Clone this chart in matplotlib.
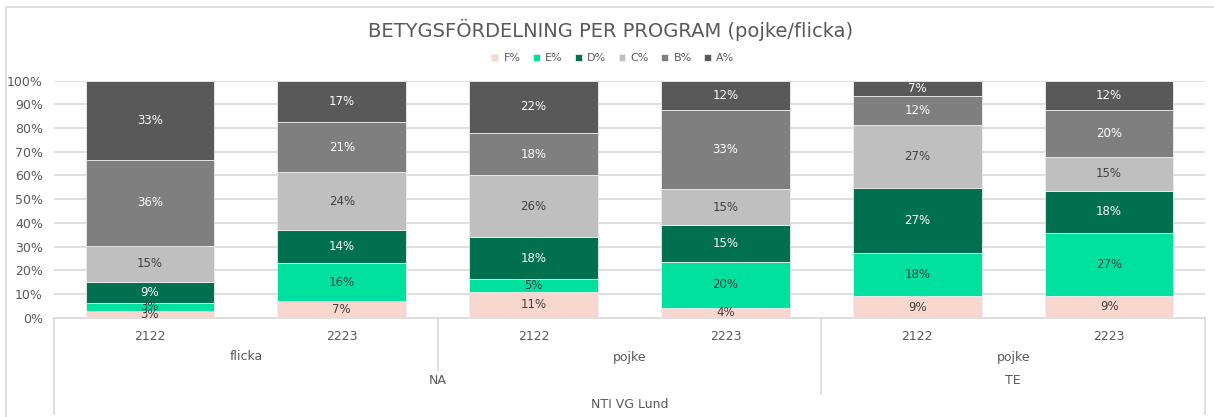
import matplotlib
matplotlib.use("Agg")
import matplotlib.pyplot as plt
from matplotlib.patches import Rectangle
from matplotlib.lines import Line2D
import numpy as np

plt.rcParams['font.family'] = ['DejaVu Sans']

# ---- data ----
schools = ["NTI VG Lund"] * 6
programs = ["NA", "NA", "NA", "NA", "TE", "TE"]
genders = ["flicka", "flicka", "pojke", "pojke", "pojke", "pojke"]
years = ["2122", "2223", "2122", "2223", "2122", "2223"]

grades = ["F%", "E%", "D%", "C%", "B%", "A%"]
F_pct = [3.03, 6.9, 11.0, 4.0, 9.0, 9.1]
E_pct = [3.03, 16.3, 5.3, 19.6, 18.4, 26.8]
D_pct = [9.09, 13.8, 17.7, 15.4, 27.2, 17.5]
C_pct = [15.15, 24.4, 26.2, 15.4, 26.6, 14.6]
B_pct = [36.36, 21.2, 17.7, 33.2, 12.2, 19.6]
A_pct = [33.33, 17.4, 22.1, 12.4, 6.6, 12.4]
series = [F_pct, E_pct, D_pct, C_pct, B_pct, A_pct]

colors = ["#F8D7CE", "#00E09E", "#00704F", "#BFBFBF", "#7F7F7F", "#595959"]
label_colors = ["#404040", "#404040", "white", "#404040", "white", "white"]
TXT = "#595959"
GRID = "#D9D9D9"

W, H = 1214, 417
fig = plt.figure(figsize=(W / 100, H / 100), dpi=100)
ax_l, ax_r, ax_t, ax_b = 54, 1205, 80.7, 317.7
ax = fig.add_axes([ax_l / W, (H - ax_b) / H, (ax_r - ax_l) / W, (ax_b - ax_t) / H])

n = len(years)
x = np.arange(n)
bottom = np.zeros(n)
for vals, col, lcol, name in zip(series, colors, label_colors, grades):
    vals = np.array(vals)
    ax.bar(x, vals, 0.67, bottom=bottom, color=col, label=name, zorder=3,
           edgecolor="#EDEDED", linewidth=0.6)
    for xi, v, b in zip(x, vals, bottom):
        ax.text(xi, b + v / 2, f"{v:.0f}%", ha="center", va="center",
                fontsize=8.5, color=lcol, zorder=4)
    bottom += vals

ax.set_xlim(-0.5, n - 0.5)
ax.set_ylim(0, 100)
ax.set_yticks(np.arange(0, 101, 10))
ax.set_yticklabels([f"{v}%" for v in range(0, 101, 10)])
ax.yaxis.grid(True, color=GRID, linewidth=1.2, zorder=0)
ax.set_axisbelow(True)
ax.tick_params(axis="y", length=0, pad=8, labelsize=9, labelcolor=TXT)
ax.set_xticks(x)
ax.set_xticklabels(years)
ax.tick_params(axis="x", length=0, pad=9, labelsize=9, labelcolor=TXT)
for s in ["left", "right", "top"]:
    ax.spines[s].set_visible(False)
ax.spines["bottom"].set_color(GRID)
ax.spines["bottom"].set_linewidth(1.2)

# ---- multi-level category axis ----
def ay(py):
    return (ax_b - py) / (ax_b - ax_t)

def groups(labels, parents=None):
    out = []
    start = 0
    for i in range(1, len(labels) + 1):
        key_prev = (labels[start], parents[start] if parents else None)
        if i == len(labels) or (labels[i], parents[i] if parents else None) != key_prev:
            out.append((start, i - 1, labels[start]))
            start = i
    return out

prog_key = [s + "|" + p for s, p in zip(schools, programs)]

levels = [
    (groups(genders, prog_key), 357, 370),
    (groups(programs, schools), 381, 394),
    (groups(schools), 405, 414),
]
boundaries = {}
for grp, ty, ly in levels:
    for s, e, lab in grp:
        ax.text((s + e) / 2, ay(ty), lab, ha="center", va="center",
                fontsize=9, color=TXT, transform=ax.get_xaxis_transform())
        for b in (s - 0.5, e + 0.5):
            boundaries[b] = max(boundaries.get(b, 0), ly)
for b, ly in boundaries.items():
    ax.add_line(Line2D([b, b], [0, ay(ly)], color=GRID, linewidth=1.2,
                       transform=ax.get_xaxis_transform(), clip_on=False))

# ---- title & legend ----
fig.text(611 / W, 1 - 30 / H, "BETYGSFÖRDELNING PER PROGRAM (pojke/flicka)",
         ha="center", va="center", fontsize=14, color=TXT)
leg = fig.legend(loc="center", bbox_to_anchor=(613 / W, 1 - 58 / H), ncol=6,
                 frameon=False, fontsize=8, handlelength=0.6, handleheight=0.6,
                 handletextpad=0.5, columnspacing=1.1)
for t in leg.get_texts():
    t.set_color(TXT)

# chart border
fig.patches.append(Rectangle((6 / W, -0.1), 1.2, 1 - 7 / H + 0.1,
                             transform=fig.transFigure, fill=False,
                             edgecolor=GRID, linewidth=1.2))

fig.savefig("out.png", dpi=100)
